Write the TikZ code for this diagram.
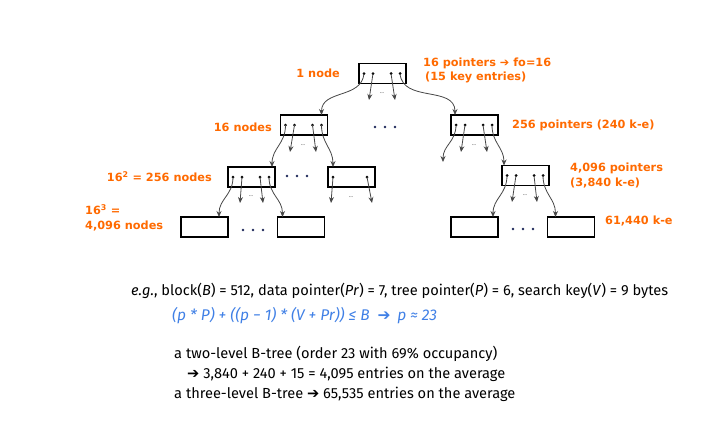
\documentclass[tikz,border=0pt]{standalone}
\usepackage{fontspec}
\setmainfont{Fira Sans}
\newfontfamily\hand{DejaVu Sans Bold}
\newfontfamily\symf{DejaVu Sans}
\usetikzlibrary{arrows.meta}
\definecolor{orng}{RGB}{255,106,0}
\definecolor{blu}{RGB}{64,128,230}
\definecolor{dotc}{RGB}{30,40,90}
\begin{document}
\begin{tikzpicture}[x=1pt,y=-1pt,
  bx/.style={draw=black, line width=1.1pt, minimum width=47pt, minimum height=20pt, inner sep=0pt, outer sep=0pt},
  ptr/.style={draw=black!72, line width=0.8pt, -{Stealth[length=6pt,width=5pt]}},
  lab/.style={text=orng, font=\hand\fontsize{11.3}{12}\selectfont, inner sep=0pt},
  txt/.style={font=\fontsize{14.6}{16}\selectfont, inner sep=0pt, anchor=base west},
  sm/.style={text=black!60, font=\fontsize{6}{6}\selectfont, inner sep=0pt}]
\useasboundingbox[fill=white] (0,0) rectangle (726,429);
\newcommand\fourdots[1]{%
  \path (#1.west) ++(5,0) coordinate (#1-1) ++(9,0) coordinate (#1-2) ++(18,0) coordinate (#1-3) ++(9,0) coordinate (#1-4);
  \foreach \k in {1,2,3,4} \fill (#1-\k) circle (1.5);}
\newcommand\threedots[2]{\foreach \dx in {-10,0,10} \fill[dotc] (#1+\dx,#2) circle (1.3);}
% boxes
\node[bx] (r) at (382.5,73.5) {};
\node[bx] (a) at (304,125) {};
\node[bx] (b) at (474.5,125) {};
\node[bx] (c) at (251.5,177) {};
\node[bx] (d) at (351.5,177) {};
\node[bx] (e) at (525.5,175.5) {};
\node[bx] (f) at (204.5,227) {};
\node[bx] (g) at (301,227) {};
\node[bx] (h) at (474.5,227) {};
\node[bx] (i) at (571,227) {};
\fourdots{r}\fourdots{a}\fourdots{b}\fourdots{c}\fourdots{e}
\path (d.west) ++(5,0) coordinate (d-1) ++(34,0) coordinate (d-2);
\fill (d-1) circle (1.5); \fill (d-2) circle (1.5);
% free arrow ends
\coordinate (r-s2) at (369,100); \coordinate (r-s3) at (395,100);
\coordinate (a-s2) at (290,152); \coordinate (a-s3) at (316,152);
\coordinate (b-l) at (443,162); \coordinate (b-s2) at (461,152); \coordinate (b-s3) at (487,152);
\coordinate (c-s2) at (240,203); \coordinate (c-s3) at (263,203);
\coordinate (d-s1) at (331,203); \coordinate (d-s2) at (372,203);
\coordinate (e-s2) at (512,202); \coordinate (e-s3) at (537,202);
% arrows root
\draw[ptr] (r-1) to[out=-95,in=90,looseness=1.1] ([xshift=-6pt]a.north east);
\draw[ptr] (r-4) to[out=-85,in=90,looseness=1.1] ([xshift=4pt]b.north west);
\draw[ptr] (r-2) -- (r-s2); \draw[ptr] (r-3) -- (r-s3);
\node[sm] (rm) at (382,93) {...};
% level 2 left
\draw[ptr] (a-1) to[out=-90,in=90,looseness=1.1] ([xshift=-3pt]c.north east);
\draw[ptr] (a-4) to[out=-90,in=90,looseness=1.1] ([xshift=5pt]d.north west);
\draw[ptr] (a-2) -- (a-s2); \draw[ptr] (a-3) -- (a-s3);
\node[sm] (am) at (303,145) {...};
% level 2 right
\draw[ptr] (b-1) to[out=-90,in=90,looseness=1.1] (b-l);
\draw[ptr] (b-4) to[out=-90,in=90,looseness=1.1] ([xshift=2pt]e.north west);
\draw[ptr] (b-2) -- (b-s2); \draw[ptr] (b-3) -- (b-s3);
\node[sm] (bm) at (474,145) {...};
% level 3 left
\draw[ptr] (c-1) to[out=-90,in=90,looseness=1.1] ([xshift=-9pt]f.north east);
\draw[ptr] (c-4) to[out=-90,in=90,looseness=1.1] ([xshift=5pt]g.north west);
\draw[ptr] (c-2) -- (c-s2); \draw[ptr] (c-3) -- (c-s3);
\node[sm] (cm) at (251,196) {...};
% level 3 mid
\draw[ptr] (d-1) -- (d-s1); \draw[ptr] (d-2) -- (d-s2);
\node[sm] (dm) at (351,197) {...};
% level 3 right
\draw[ptr] (e-1) to[out=-90,in=90,looseness=1.1] ([xshift=-5pt]h.north east);
\draw[ptr] (e-4) to[out=-90,in=90,looseness=1.1] ([xshift=8pt]i.north west);
\draw[ptr] (e-2) -- (e-s2); \draw[ptr] (e-3) -- (e-s3);
\node[sm] (em) at (525,195) {...};
% big ellipses
\threedots{385}{127}
\threedots{297}{176}
\threedots{253}{230}
\threedots{523}{229}
% orange labels
\node[lab,anchor=east] (l1) at (340,73) {1 node};
\node[lab,anchor=west] (l2) at (423,63) {16 pointers ➔ fo=16};
\node[lab,anchor=west] (l3) at (425,77) {(15 key entries)};
\node[lab,anchor=east] (l4) at (272,127) {16 nodes};
\node[lab,anchor=west] (l5) at (512,125) {256 pointers (240 k-e)};
\node[lab,anchor=east] (l6) at (212,177) {16\textsuperscript{2} = 256 nodes};
\node[lab,anchor=west] (l7) at (570,168) {4,096 pointers};
\node[lab,anchor=west] (l8) at (570,183) {(3,840 k-e)};
\node[lab,anchor=west] (l9) at (85,210) {16\textsuperscript{3} =};
\node[lab,anchor=west] (l10) at (85,226) {4,096 nodes};
\node[lab,anchor=west] (l11) at (605,221) {61,440 k-e};
% bottom text
\node[txt] (t1) at (131,295) {\textit{e.g.}, block(\textit{B}) = 512, data pointer(\textit{Pr}) = 7, tree pointer(\textit{P}) = 6, search key(\textit{V}) = 9 bytes};
\node[txt,text=blu,font=\fontsize{15.5}{17}\selectfont] (t2) at (172,320) {\itshape (p * P) + ((p − 1) * (V + Pr)) ≤ B \ {\upshape\symf ➔}\ \,p ≈ 23};
\node[txt] (t3) at (174,358) {a two-level B-tree (order 23 with 69\% occupancy)};
\node[txt] (t4) at (187,378) {{\symf ➔} 3,840 + 240 + 15 = 4,095 entries on the average};
\node[txt] (t5) at (174,398) {a three-level B-tree {\symf ➔} 65,535 entries on the average};
\end{tikzpicture}
\end{document}
